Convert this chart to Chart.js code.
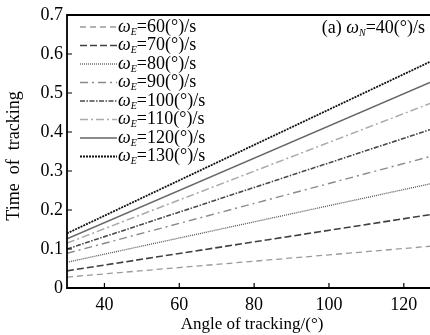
<!DOCTYPE html>
<html>
<head>
<meta charset="utf-8">
<script src="https://cdn.jsdelivr.net/npm/chart.js@4"></script>
<style>
  html, body { margin: 0; padding: 0; background: #fff; }
  #wrap { width: 430px; height: 335px; position: relative; }
</style>
</head>
<body>
<div id="wrap"><canvas id="c"></canvas></div>
<script>
// angle of tracking (deg), read at left / right edge of the plot
const angles = [30, 127];
const speeds = [60, 70, 80, 90, 100, 110, 120, 130];
const w60  = [0.028, 0.107];
const w70  = [0.044, 0.188];
const w80  = [0.066, 0.267];
const w90  = [0.089, 0.337];
const w100 = [0.100, 0.406];
const w110 = [0.115, 0.473];
const w120 = [0.126, 0.527];
const w130 = [0.140, 0.580];
const xTicks = [40, 60, 80, 100, 120];
const yTicks = [0, 0.1, 0.2, 0.3, 0.4, 0.5, 0.6, 0.7];

const serif = '"Liberation Serif", "DejaVu Serif", serif';

// line styles per series
const styles = [
  { color: '#9a9a9a', width: 1.3, dash: [6, 4] },
  { color: '#404040', width: 1.6, dash: [7, 3] },
  { color: '#555555', width: 1.3, dash: [1, 1] },
  { color: '#8a8a8a', width: 1.4, dash: [8, 4, 2, 4] },
  { color: '#4a4a4a', width: 1.6, dash: [5, 1.5, 1.5, 1.5] },
  { color: '#aaaaaa', width: 1.5, dash: [8, 3, 2, 3] },
  { color: '#666666', width: 1.6, dash: [] },
  { color: '#111111', width: 1.8, dash: [2, 1] }
];
const seriesVals = [w60, w70, w80, w90, w100, w110, w120, w130];

const datasets = seriesVals.map((vals, i) => ({
  label: 'ωE=' + speeds[i] + '(°)/s',
  data: angles.map((a, j) => ({ x: a, y: vals[j] })),
  borderColor: styles[i].color,
  borderWidth: styles[i].width,
  borderDash: styles[i].dash,
  pointRadius: 0,
  fill: false,
  tension: 0
}));

// draws "ω" + subscript + rest, returns end x (draw=false only measures)
function omegaText(ctx, x, y, sub, rest, draw = true) {
  const x0 = x;
  ctx.font = 'italic 18px ' + serif;
  if (draw) ctx.fillText('ω', x, y);
  x += ctx.measureText('ω').width;
  ctx.font = 'italic 10px ' + serif;
  if (draw) ctx.fillText(sub, x, y + 5);
  x += ctx.measureText(sub).width;
  ctx.font = '18px ' + serif;
  if (draw) ctx.fillText(rest, x, y);
  return x + ctx.measureText(rest).width - (draw ? 0 : x0);
}

const extras = {
  id: 'extras',
  afterDraw(chart) {
    const ctx = chart.ctx;
    const a = chart.chartArea;
    const xs = chart.scales.x, ys = chart.scales.y;
    ctx.save();
    // frame: left, bottom, top
    ctx.strokeStyle = '#000';
    ctx.lineWidth = 1.8;
    ctx.setLineDash([]);
    ctx.beginPath();
    ctx.moveTo(a.right + 2, a.top);
    ctx.lineTo(a.left, a.top);
    ctx.lineTo(a.left, a.bottom);
    ctx.lineTo(a.right + 2, a.bottom);
    ctx.stroke();
    // inward ticks
    ctx.lineWidth = 1.2;
    ctx.beginPath();
    xTicks.forEach(v => {
      const px = xs.getPixelForValue(v);
      ctx.moveTo(px, a.bottom);
      ctx.lineTo(px, a.bottom - 5);
    });
    yTicks.forEach(v => {
      const py = ys.getPixelForValue(v);
      ctx.moveTo(a.left, py);
      ctx.lineTo(a.left + 5, py);
    });
    ctx.stroke();

    // legend
    ctx.fillStyle = '#000';
    ctx.textBaseline = 'middle';
    ctx.textAlign = 'left';
    speeds.forEach((s, i) => {
      const y = 27 + i * 18.5;
      const st = styles[i];
      ctx.strokeStyle = st.color;
      ctx.lineWidth = st.width;
      ctx.setLineDash(st.dash);
      ctx.beginPath();
      ctx.moveTo(80, y);
      ctx.lineTo(117, y);
      ctx.stroke();
      omegaText(ctx, 118, y, 'E', '=' + s + '(°)/s');
    });
    ctx.setLineDash([]);

    // panel note, right-aligned near the edge
    ctx.font = '18px ' + serif;
    const wa = ctx.measureText('(a) ').width;
    const wo = omegaText(ctx, 0, 28, 'N', '=40(°)/s', false);
    const sx = 425 - wa - wo;
    ctx.font = '18px ' + serif;
    ctx.fillText('(a) ', sx, 28);
    omegaText(ctx, sx + wa, 28, 'N', '=40(°)/s');

    // axis titles
    ctx.font = '17px ' + serif;
    ctx.textAlign = 'center';
    ctx.fillText('Angle of tracking/(°)', 252, 325);
    ctx.font = '18px ' + serif;
    ctx.translate(14, 156);
    ctx.rotate(-Math.PI / 2);
    ctx.fillText('Time  of  tracking', 0, 0);
    ctx.restore();
  }
};

new Chart(document.getElementById('c'), {
  type: 'line',
  data: { datasets },
  options: {
    responsive: true,
    maintainAspectRatio: false,
    animation: false,
    layout: { padding: { top: 15, right: 0, left: 0, bottom: 0 } },
    plugins: { legend: { display: false }, tooltip: { enabled: false } },
    scales: {
      x: {
        type: 'linear',
        min: 30, max: 127,
        afterFit: s => { s.height = 47; },
        afterBuildTicks: s => { s.ticks = xTicks.map(v => ({ value: v })); },
        grid: { display: false, drawTicks: false },
        border: { display: false },
        ticks: { padding: 6, color: '#000', font: { family: serif, size: 18 } }
      },
      y: {
        min: 0, max: 0.7,
        afterFit: s => { s.width = 67; },
        afterBuildTicks: s => { s.ticks = yTicks.map(v => ({ value: v })); },
        grid: { display: false, drawTicks: false },
        border: { display: false },
        ticks: {
          padding: 4, color: '#000', font: { family: serif, size: 18 },
          callback: v => v === 0 ? '0' : v.toFixed(1)
        }
      }
    }
  },
  plugins: [extras]
});
</script>
</body>
</html>
